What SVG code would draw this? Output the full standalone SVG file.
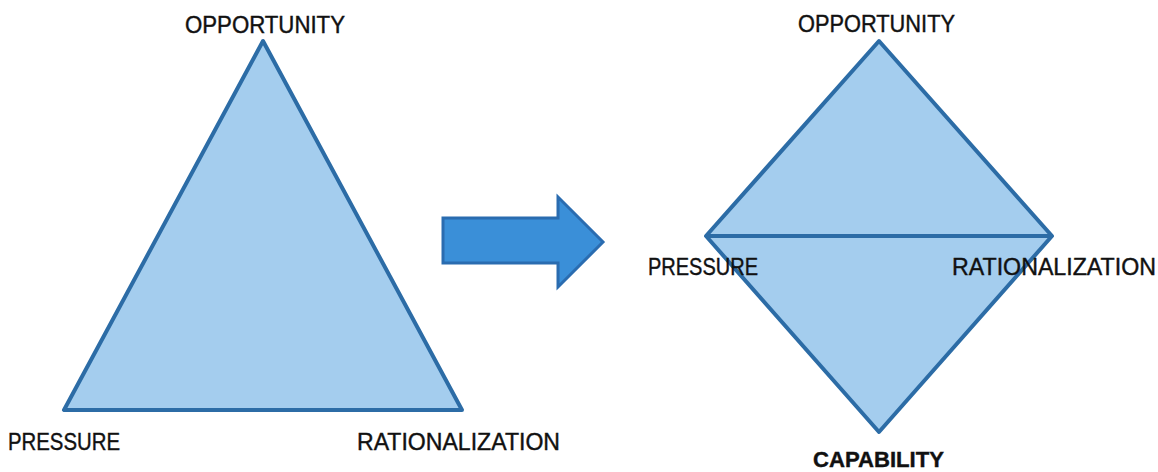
<svg xmlns="http://www.w3.org/2000/svg" width="1158" height="472" viewBox="0 0 1158 472">
<style>
.shape{fill:#a4cdee;stroke:#2c6ca6;stroke-width:4;stroke-linejoin:round}
.lbl{font-family:"Liberation Sans",Arial,sans-serif;font-size:23px;fill:#111;stroke:#111;stroke-width:0.4}
.bold{font-weight:bold;font-size:22px}
</style>
<rect width="1158" height="472" fill="#fff"/>
<g id="triangle">
<polygon class="shape" points="263,41 64,410 462,410"/>
</g>
<g id="diamond">
<polygon class="shape" points="879,41 1052,236 879,432 706,236"/>
</g>
<g id="connectors">
<line x1="706" y1="236" x2="1052" y2="236" stroke="#2c6ca6" stroke-width="4"/>
<polygon points="443,218 558,218 558,197 603,242 558,287 558,263 443,263" fill="#3a8fd8" stroke="#2a6cb0" stroke-width="3" stroke-linejoin="miter"/>
</g>
<g id="labels">
<text class="lbl" x="185" y="33" textLength="160" lengthAdjust="spacingAndGlyphs">OPPORTUNITY</text>
<text class="lbl" x="8" y="450" textLength="112" lengthAdjust="spacingAndGlyphs">PRESSURE</text>
<text class="lbl" x="357" y="450" textLength="203" lengthAdjust="spacingAndGlyphs">RATIONALIZATION</text>
<text class="lbl" x="798" y="32" textLength="157" lengthAdjust="spacingAndGlyphs">OPPORTUNITY</text>
<text class="lbl" x="648" y="275" textLength="110" lengthAdjust="spacingAndGlyphs">PRESSURE</text>
<text class="lbl" x="952" y="275" textLength="204" lengthAdjust="spacingAndGlyphs">RATIONALIZATION</text>
<text class="lbl bold" x="813" y="467" textLength="131" lengthAdjust="spacingAndGlyphs">CAPABILITY</text>
</g>
</svg>
